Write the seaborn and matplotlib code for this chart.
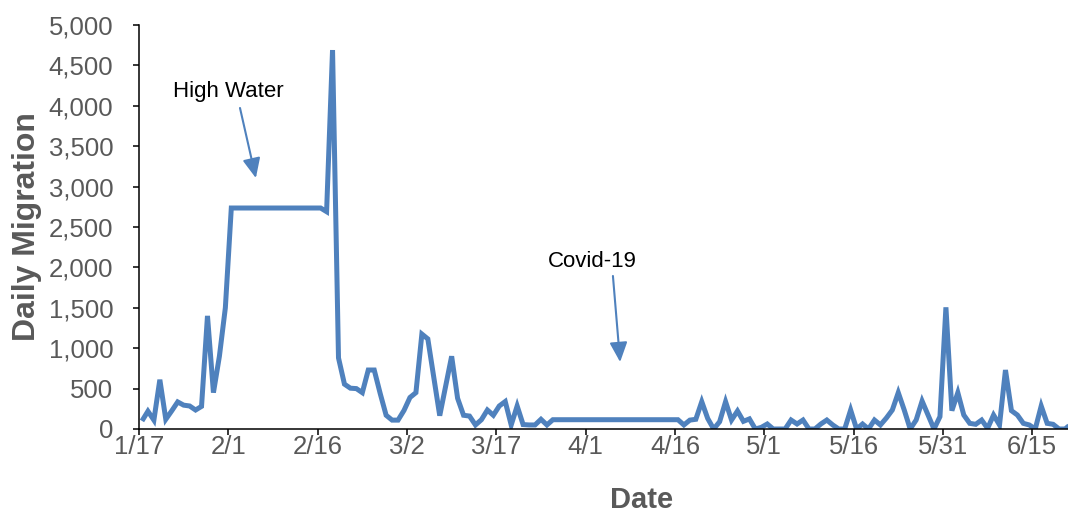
import matplotlib
matplotlib.use("Agg")
import matplotlib.pyplot as plt
import matplotlib.dates as mdates
import numpy as np
import pandas as pd
import seaborn as sns

# Daily fish migration counts, 17 Jan - 21 Jun 2020
start_date = "2020-01-17"
migration = [
    100, 220, 110, 610, 120, 225, 335, 295, 285, 235,
    280, 1400, 450, 900, 1500, 2735, 2735, 2735, 2735, 2735,
    2735, 2735, 2735, 2735, 2735, 2735, 2735, 2735, 2735, 2735,
    2735, 2690, 4690, 880, 555, 505, 500, 450, 730, 730,
    440, 170, 110, 110, 230, 390, 450, 1175, 1115, 640,
    165, 530, 900, 380, 170, 160, 50, 115, 235, 170,
    285, 340, 50, 285, 55, 50, 50, 120, 50, 115,
    115, 115, 115, 115, 115, 115, 115, 115, 115, 115,
    115, 115, 115, 115, 115, 115, 115, 115, 115, 115,
    115, 50, 110, 120, 338, 130, 0, 90, 338, 111,
    223, 95, 125, 0, 20, 62, 0, 0, 0, 111,
    62, 111, 0, 0, 62, 111, 50, 0, 0, 235,
    0, 62, 0, 111, 50, 136, 235, 450, 235, 0,
    111, 346, 173, 0, 153, 1506, 227, 450, 173, 70,
    58, 111, 8, 173, 50, 730, 227, 173, 70, 50,
    0, 285, 70, 58, 0, 0, 60,
]
tick_dates = ["2020-01-17", "2020-02-01", "2020-02-16", "2020-03-02",
              "2020-03-17", "2020-04-01", "2020-04-16", "2020-05-01",
              "2020-05-16", "2020-05-31", "2020-06-15"]
y_ticks = [0, 500, 1000, 1500, 2000, 2500, 3000, 3500, 4000, 4500, 5000]

# Annotation labels: (text, text position, arrow tail, arrow tip)
notes = [
    ("High Water", ("2020-02-01", 4171), ("2020-02-02 23:00", 3973), ("2020-02-05 15:00", 3106)),
    ("Covid-19", ("2020-04-02 04:00", 2067), ("2020-04-05 14:00", 1894), ("2020-04-06 19:00", 829)),
]

LINE = "#4F81BD"
GREY = "#595959"

# each day's value sits in the middle of its date slot
days = pd.date_range(start_date, periods=len(migration), freq="D") + pd.Timedelta(hours=12)
df = pd.DataFrame({"Date": days, "Daily Migration": migration})

sns.set_theme(style="white")
plt.rcParams["font.family"] = ["Liberation Sans", "DejaVu Sans"]

fig = plt.figure(figsize=(10.68, 5.14), dpi=100)
ax = fig.add_axes([139 / 1068, 1 - 429 / 514, 1 - 139 / 1068, (429 - 25) / 514])

sns.lineplot(data=df, x="Date", y="Daily Migration", ax=ax, color=LINE,
             linewidth=3.6, solid_joinstyle="miter", solid_capstyle="butt")

ax.set_xlim(pd.Timestamp(start_date), pd.Timestamp("2020-06-21"))
ax.set_ylim(0, 5000)
ax.set_yticks(y_ticks)
ax.yaxis.set_major_formatter(matplotlib.ticker.FuncFormatter(lambda v, _: f"{int(v):,}"))
ax.set_xticks([pd.Timestamp(d) for d in tick_dates])
ax.xaxis.set_major_formatter(matplotlib.ticker.FuncFormatter(
    lambda v, _: f"{mdates.num2date(v).month}/{mdates.num2date(v).day}"))

for side in ("top", "right"):
    ax.spines[side].set_visible(False)
for side in ("left", "bottom"):
    ax.spines[side].set_color("black")
    ax.spines[side].set_linewidth(1.1)

ax.tick_params(axis="both", which="major", direction="out", length=4.5, width=1.1,
               color="black", labelsize=18.5, labelcolor=GREY, bottom=True, left=True)
ax.tick_params(axis="y", pad=14)
ax.tick_params(axis="x", pad=-0.5)

ax.set_xlabel("Date", fontsize=21, fontweight="bold", color=GREY)
ax.set_ylabel("Daily Migration", fontsize=23, fontweight="bold", color=GREY)
ax.xaxis.set_label_coords(0.5414, -0.142)
ax.yaxis.set_label_coords(-0.104, 0.5)

for text, pos, tail, tip in notes:
    ax.text(pd.Timestamp(pos[0]), pos[1], text, fontsize=16, color="black",
            ha="center", va="center")
    ax.annotate("", xy=(pd.Timestamp(tip[0]), tip[1]),
                xytext=(pd.Timestamp(tail[0]), tail[1]),
                arrowprops=dict(arrowstyle="-|>,head_length=0.6,head_width=0.27",
                                mutation_scale=20, color=LINE, lw=1.5,
                                shrinkA=0, shrinkB=0))

fig.savefig("out.png", dpi=100)
